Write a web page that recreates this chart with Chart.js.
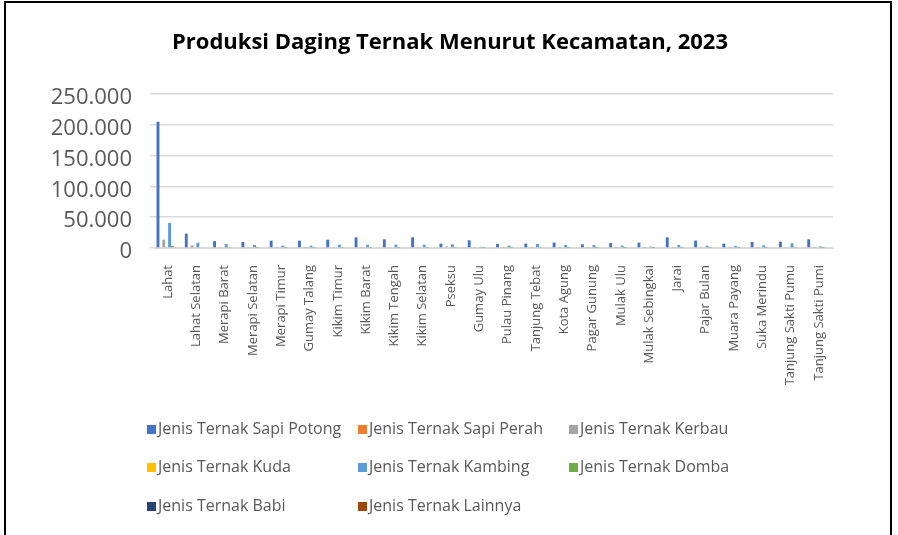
<!DOCTYPE html>
<html>
<head>
<meta charset="utf-8">
<script src="https://cdn.jsdelivr.net/npm/chart.js@4.4.1/dist/chart.umd.min.js"></script>
<style>
  html, body { margin: 0; padding: 0; background: #fff; }
  #wrap { position: relative; width: 898px; height: 535px; overflow: hidden; }
  #frame { position: absolute; left: 4px; top: 1px; width: 888px; height: 560px; border: 2px solid #000; box-sizing: border-box; }
  canvas { position: absolute; left: 0; top: 0; }
  #judul { position: absolute; left: 0; top: 25px; width: 900px; text-align: center; font-family: "Open Sans", sans-serif;
    font-weight: bold; font-size: 22px; color: #000; line-height: 30px; }
  #legend { position: absolute; left: 147px; top: 417px; font-family: "Open Sans", sans-serif; font-size: 16px; color: #595959; }
  #legend .item { position: absolute; white-space: nowrap; line-height: 22px; }
  #legend .box { display: inline-block; width: 9px; height: 9px; margin-right: 2px; vertical-align: 0px; }
</style>
</head>
<body>
<div id="wrap">
  <div id="frame"></div>
  <canvas id="chart" width="898" height="535"></canvas>
  <div id="judul">Produksi Daging Ternak Menurut Kecamatan, 2023</div>
  <div id="legend"></div>
</div>
<script>
// Data produksi daging per kecamatan
const kecamatan = ["Lahat", "Lahat Selatan", "Merapi Barat", "Merapi Selatan", "Merapi Timur", "Gumay Talang",
  "Kikim Timur", "Kikim Barat", "Kikim Tengah", "Kikim Selatan", "Pseksu", "Gumay Ulu", "Pulau Pinang",
  "Tanjung Tebat", "Kota Agung", "Pagar Gunung", "Mulak Ulu", "Mulak Sebingkai", "Jarai", "Pajar Bulan",
  "Muara Payang", "Suka Merindu", "Tanjung Sakti Pumu", "Tanjung Sakti Pumi"];

const sapiPotong = [205000, 23300, 11400, 9800, 11900, 11900, 13600, 17400, 14100, 17400, 7000, 12500,
  6500, 7000, 8700, 6000, 8100, 8700, 17400, 12000, 7000, 9800, 10300, 14100];
const sapiPerah = [0, 0, 0, 0, 0, 0, 0, 0, 0, 0, 0, 0, 0, 0, 0, 0, 0, 0, 0, 0, 0, 0, 0, 0];
const kerbau = [13600, 4300, 800, 600, 500, 500, 700, 600, 800, 700, 2500, 600, 500, 600, 700, 500,
  500, 400, 600, 500, 400, 600, 800, 500];
const kuda = [0, 0, 0, 0, 0, 0, 0, 0, 0, 0, 0, 0, 0, 0, 0, 0, 0, 0, 0, 0, 0, 0, 0, 0];
const kambing = [40700, 8700, 6500, 4900, 3800, 3800, 5400, 5400, 5400, 5400, 6000, 2000, 3800, 6500,
  4900, 4900, 3800, 2200, 4900, 3800, 3300, 4300, 7600, 2700];
const domba = [3500, 1200, 600, 500, 400, 400, 500, 500, 500, 500, 600, 300, 400, 600, 400, 400, 300,
  300, 400, 300, 300, 400, 600, 300];
const babi = [0, 0, 0, 0, 0, 0, 0, 0, 0, 0, 0, 0, 0, 0, 0, 0, 0, 0, 0, 0, 0, 0, 0, 0];
const lainnya = [0, 0, 0, 0, 0, 0, 0, 0, 0, 0, 0, 0, 0, 0, 0, 0, 0, 0, 0, 0, 0, 0, 0, 0];

const namaSeri = ["Jenis Ternak Sapi Potong", "Jenis Ternak Sapi Perah", "Jenis Ternak Kerbau",
  "Jenis Ternak Kuda", "Jenis Ternak Kambing", "Jenis Ternak Domba", "Jenis Ternak Babi", "Jenis Ternak Lainnya"];
const warna = ["#4472c4", "#ed7d31", "#a5a5a5", "#ffc000", "#5b9bd5", "#70ad47", "#264478", "#9e480e"];
const nilaiSeri = [sapiPotong, sapiPerah, kerbau, kuda, kambing, domba, babi, lainnya];

// format ribuan pakai titik
function formatRibuan(v) {
  return String(v).replace(/\B(?=(\d{3})+(?!\d))/g, ".");
}

const datasets = namaSeri.map(function (nama, i) {
  return {
    label: nama,
    data: nilaiSeri[i],
    backgroundColor: warna[i],
    borderWidth: 0,
    categoryPercentage: 0.82,
    barPercentage: 1.0,
  };
});

const chart = new Chart(document.getElementById("chart"), {
  type: "bar",
  data: { labels: kecamatan, datasets: datasets },
  options: {
    responsive: false,
    animation: false,
    layout: { padding: { left: 0, right: 65, top: 94, bottom: 150 } },
    plugins: {
      legend: { display: false },
      tooltip: { enabled: false },
      title: { display: false },
    },
    scales: {
      x: {
        grid: { display: true, drawOnChartArea: false, color: "rgba(0,0,0,0)", tickLength: 8 },
        border: { display: true, color: "#d9d9d9", width: 1 },
        ticks: {
          minRotation: 90,
          maxRotation: 90,
          autoSkip: false,
          padding: 9,
          color: "#595959",
          font: { family: "Open Sans", size: 13 },
        },
        afterFit: function (scale) { scale.height = 137; },
      },
      y: {
        min: 0,
        max: 250000,
        ticks: {
          stepSize: 50000,
          padding: 18,
          labelOffset: 4,
          color: "#595959",
          font: { family: "Open Sans", size: 22 },
          callback: function (v) { return formatRibuan(v); },
        },
        grid: { color: "#d9d9d9", lineWidth: 1.5, tickLength: 4 },
        border: { display: false },
        afterFit: function (scale) { scale.width = 154; },
      },
    },
  },
});

// legenda manual, tiga kolom seperti gambar asli
const legend = document.getElementById("legend");
const kolomX = [0, 211, 422];
const barisY = [0, 38, 77];
namaSeri.forEach(function (nama, i) {
  const item = document.createElement("div");
  item.className = "item";
  item.style.left = kolomX[i % 3] + "px";
  item.style.top = barisY[Math.floor(i / 3)] + "px";
  item.innerHTML = '<span class="box" style="background:' + warna[i] + '"></span>' + nama;
  legend.appendChild(item);
});
</script>
</body>
</html>
